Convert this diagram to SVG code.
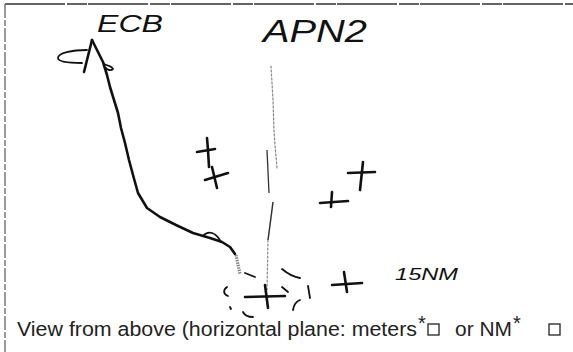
<svg xmlns="http://www.w3.org/2000/svg" width="573" height="352" viewBox="0 0 573 352">
<style>
.ink{fill:none;stroke:#111;stroke-width:2.6;stroke-linecap:round;stroke-linejoin:round}
.thin{fill:none;stroke:#111;stroke-width:1.8;stroke-linecap:round;stroke-linejoin:round}
.faint{fill:none;stroke:#888;stroke-width:1.2;stroke-dasharray:2 2;stroke-linecap:round}
.hand{font-family:"Liberation Sans",Arial,sans-serif;fill:#111}
.cap{font-family:"Liberation Sans",Arial,sans-serif;font-size:20px;fill:#222}
.box{fill:none;stroke:#222;stroke-width:1.3}
</style>
<rect width="573" height="352" fill="#fff"/>
<g id="frame">
<line x1="5" y1="4" x2="573" y2="4" stroke="#333" stroke-width="1.6" stroke-dasharray="60 2 20 1"/>
<line x1="5" y1="4" x2="5" y2="352" stroke="#666" stroke-width="1.3" stroke-dasharray="14 2 6 2"/>
</g>
<g id="ecb">
<text class="hand" x="97" y="32" font-size="24" textLength="66" lengthAdjust="spacingAndGlyphs" font-style="italic">ECB</text>
<path class="ink" d="M92,40 L84,72"/>
<path class="thin" d="M87,50 C72,50 58,53 58,58 C58,62 70,63 82,63"/>
<path class="thin" d="M104,64 C108,66 112,66 113,69 C111,71 107,70 106,68"/>
</g>
<g id="apn2">
<text class="hand" x="263" y="42" font-size="32" textLength="104" lengthAdjust="spacingAndGlyphs" font-style="italic">APN2</text>
</g>
<g id="connectors">
<polyline class="ink" points="92,40 98,52 103,62 107,75 110,87 114,100 118,113 121,128 125,143 129,160 133,175 138,193 147,208 160,217 176,225 193,233 210,238 222,242 230,247 235,254"/>
<path class="thin" d="M203,236 C208,230 216,232 221,242"/>
<path d="M236,255 L240,274" stroke="#888" stroke-width="3.2" stroke-dasharray="1.5 1" fill="none"/>
<path class="faint" d="M271,66 L273,100 L274,131 L275,145 L277,168"/>
<path d="M267,150 L269,193" stroke="#333" stroke-width="1.3" fill="none"/>
<path d="M273,202 L270,225 L268,240" stroke="#333" stroke-width="1.5" fill="none"/>
<path class="faint" d="M268,240 L267,290"/>
</g>
<g id="cross-left-upper">
<path class="ink" d="M207,138 L208,150 L209,167"/>
<path class="ink" d="M197,152 L215,149"/>
</g>
<g id="cross-left-lower">
<path class="ink" d="M205,180 L228,173"/>
<path class="ink" d="M212,167 L217,188"/>
</g>
<g id="cross-right-upper">
<path class="ink" d="M363,162 L360,190"/>
<path class="ink" d="M348,173 L375,172"/>
</g>
<g id="cross-right-lower">
<path class="ink" d="M332,192 L331,207"/>
<path class="ink" d="M320,203 L348,201"/>
</g>
<g id="cross-bottom-center">
<path class="ink" d="M245,297 L285,296" stroke-width="3"/>
<path class="ink" d="M265,285 L268,308" stroke-width="3"/>
<g class="thin" stroke-width="1.5">
<path d="M227,287 C223,290 223,294 228,296"/>
<path d="M245,273 L255,277"/>
<path d="M282,269 C288,274 294,277 300,278"/>
<path d="M282,287 L288,292"/>
<path d="M308,286 L310,298"/>
<path d="M293,310 C294,304 297,301 300,300"/>
<path d="M243,312 C245,316 249,317 253,317"/>
<path d="M230,307 L231,309"/>
</g>
</g>
<g id="cross-bottom-right">
<path class="ink" d="M332,285 L362,283" stroke-width="3"/>
<path class="ink" d="M344,272 L347,292" stroke-width="3"/>
<text class="hand" x="395" y="280" font-size="17" textLength="63" lengthAdjust="spacingAndGlyphs" font-style="italic">15NM</text>
</g>
<g id="caption">
<text class="cap" x="17" y="336" textLength="400" lengthAdjust="spacingAndGlyphs">View from above (horizontal plane: meters</text>
<text class="cap" x="418" y="330" font-size="9">*</text>
<rect class="box" x="428" y="324" width="11" height="11"/>
<text class="cap" x="455" y="336" textLength="57" lengthAdjust="spacingAndGlyphs">or NM</text>
<text class="cap" x="513" y="330" font-size="9">*</text>
<rect class="box" x="549" y="324" width="11" height="11"/>
</g>
</svg>
